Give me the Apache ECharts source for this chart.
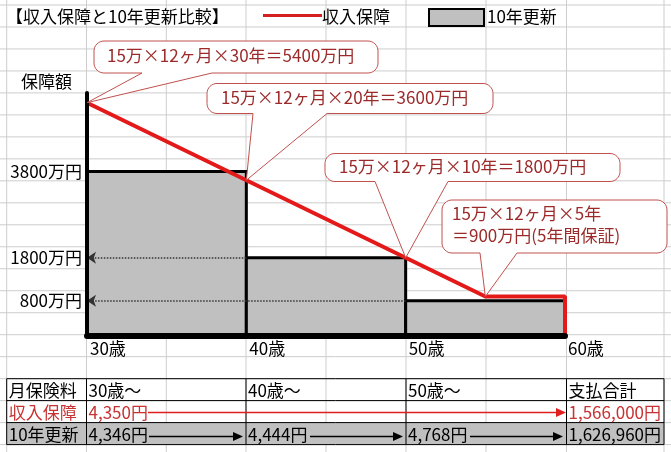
<!DOCTYPE html>
<html>
<head>
<meta charset="utf-8">
<script src="https://cdn.jsdelivr.net/npm/echarts@6/dist/echarts.min.js"></script>
<style>
html, body { margin: 0; padding: 0; background: #fff; }
#main { width: 671px; height: 452px; }
</style>
</head>
<body>
<div id="main"></div>
<script>
// 収入保障（逓減型）の保障額
var incomeAges = [30, 55, 60, 60];
var incomeValues = [5400, 900, 900, 0];
// 10年更新（定期）の保障額
var renewStart = [30, 40, 50];
var renewEnd = [40, 50, 60];
var renewValues = [3800, 1800, 800];
// 軸ラベル
var xTicks = [30, 40, 50, 60];
var yTicks = [800, 1800, 3800];
// 吹き出し
var calloutTexts = [
    ['15万×12ヶ月×30年＝5400万円'],
    ['15万×12ヶ月×20年＝3600万円'],
    ['15万×12ヶ月×10年＝1800万円'],
    ['15万×12ヶ月×5年', '＝900万円(5年間保証)']
];
var calloutAges = [30, 40, 50, 55];
var calloutValues = [5400, 3600, 1800, 900];
// 表
var tableHead = ['月保険料', '30歳～', '40歳～', '50歳～', '支払合計'];
var incomeRow = ['収入保障', '4,350円', '', '', '1,566,000円'];
var renewRow = ['10年更新', '4,346円', '4,444円', '4,768円', '1,626,960円'];

var FONT = 'Noto Sans CJK JP';
var FS = 17;
var myChart = echarts.init(document.getElementById('main'));

var option = {
    animation: false,
    grid: {     //グラフ位置
        left: 87,
        right: 106,
        top: 93,
        bottom: 116.7
    },
    xAxis: {
        type: 'value',
        min: 30,
        max: 60,
        z: 10,
        axisLine: { show: true, onZero: false, lineStyle: { color: '#000', width: 6 } },
        axisTick: { show: false },
        splitLine: { show: false },
        axisLabel: {
            customValues: xTicks,
            formatter: function (v) { return v + '歳'; },
            color: '#000',
            fontSize: FS,
            fontFamily: FONT,
            align: 'left',
            verticalAlign: 'top',
            padding: [0, 0, 0, 3],
            margin: 5
        }
    },
    yAxis: {
        type: 'value',
        min: 0,
        max: 5625,
        z: 10,
        name: '保障額',
        nameLocation: 'end',
        nameGap: 3,
        nameTextStyle: { color: '#000', fontSize: FS, fontFamily: FONT, align: 'right', padding: [0, 15, 0, 0] },
        axisLine: { show: true, lineStyle: { color: '#000', width: 4 } },
        axisTick: { show: false },
        splitLine: { show: false },
        axisLabel: {
            customValues: yTicks,
            formatter: function (v) { return v + '万円'; },
            color: '#000',
            fontSize: FS,
            fontFamily: FONT,
            margin: 5
        }
    },
    series: [
        {
            name: '10年更新',
            type: 'custom',
            z: 2,
            encode: { x: [0, 1], y: 2 },
            data: renewValues.map(function (v, i) { return [renewStart[i], renewEnd[i], v]; }),
            renderItem: function (params, api) {
                var p0 = api.coord([api.value(0), 0]);
                var p1 = api.coord([api.value(1), api.value(2)]);
                return {
                    type: 'rect',
                    shape: { x: p0[0], y: p1[1], width: p1[0] - p0[0], height: p0[1] - p1[1] },
                    style: { fill: '#C0C0C0', stroke: '#000', lineWidth: 3 }
                };
            }
        },
        {
            name: '収入保障',
            type: 'line',
            z: 4,
            showSymbol: false,
            data: incomeAges.map(function (a, i) { return [a, incomeValues[i]]; }),
            lineStyle: { color: '#E41A1A', width: 4 }
        },
        {   // 点線の矢印
            type: 'lines',
            coordinateSystem: 'cartesian2d',
            z: 3,
            symbol: ['none', 'arrow'],
            symbolSize: 9,
            lineStyle: { color: '#333', type: 'dotted', width: 1.5, opacity: 1 },
            data: [1, 2].map(function (i) {
                return { coords: [[renewStart[i], renewValues[i]], [renewStart[0], renewValues[i]]] };
            })
        }
    ]
};
myChart.setOption(option);

// ---- グラフィック（シートの罫線・凡例・吹き出し・表） ----
var g = [];
var colX = [6.7, 86.5, 166.3, 246, 326, 406, 486, 566.5, 664];
for (var c = 0; c < colX.length; c++) {
    g.push({ type: 'line', z: -5, shape: { x1: colX[c], y1: 0, x2: colX[c], y2: 452 }, style: { stroke: '#CDCDCD', lineWidth: 1 } });
}
for (var r = 0; r <= 20; r++) {
    var yy = 5 + 21.98 * r;
    g.push({ type: 'line', z: -5, shape: { x1: 0, y1: yy, x2: 671, y2: yy }, style: { stroke: '#CDCDCD', lineWidth: 1 } });
}

function txt(x, y, s, color) {
    return { type: 'text', x: x, y: y, z: 30, style: { text: s, fill: color || '#000', fontSize: FS, fontFamily: FONT, verticalAlign: 'middle' } };
}

// タイトル・凡例
g.push(txt(6, 17, '【収入保障と10年更新比較】'));
g.push({ type: 'line', z: 30, shape: { x1: 263, y1: 15.5, x2: 322, y2: 15.5 }, style: { stroke: '#D42020', lineWidth: 3 } });
g.push(txt(322, 17, '収入保障'));
g.push({ type: 'rect', z: 30, shape: { x: 429, y: 9, width: 55, height: 17 }, style: { fill: '#C0C0C0', stroke: '#000', lineWidth: 2 } });
g.push(txt(487, 17, '10年更新'));

// 吹き出し
var boxes = [
    { x: 94, y: 41, w: 284, h: 32, b1: 142, b2: 212, tx: 107, ty: 56 },
    { x: 207, y: 83.5, w: 286, h: 30, b1: 253, b2: 327, tx: 221, ty: 98 },
    { x: 325, y: 153.5, w: 295, h: 28, b1: 375, b2: 448, tx: 339, ty: 167 },
    { x: 442, y: 200, w: 225, h: 53, b1: 480, b2: 517, tx: 452, ty: 214 }
];
function bubble(b, tip) {
    var rr = 10, pts = [];
    function arc(cx, cy, a0, a1) {
        for (var k = 0; k <= 8; k++) {
            var a = a0 + (a1 - a0) * k / 8;
            pts.push([cx + rr * Math.cos(a), cy + rr * Math.sin(a)]);
        }
    }
    arc(b.x + rr, b.y + rr, Math.PI, 1.5 * Math.PI);
    arc(b.x + b.w - rr, b.y + rr, 1.5 * Math.PI, 2 * Math.PI);
    arc(b.x + b.w - rr, b.y + b.h - rr, 0, 0.5 * Math.PI);
    pts.push([b.b2, b.y + b.h]);
    pts.push(tip);
    pts.push([b.b1, b.y + b.h]);
    arc(b.x + rr, b.y + b.h - rr, 0.5 * Math.PI, Math.PI);
    return pts;
}
boxes.forEach(function (b, i) {
    var tip = myChart.convertToPixel({ gridIndex: 0 }, [calloutAges[i], calloutValues[i]]);
    g.push({ type: 'polygon', z: 20, shape: { points: bubble(b, tip) }, style: { fill: '#fff', stroke: '#C0504D', lineWidth: 1 } });
    calloutTexts[i].forEach(function (s, j) {
        g.push(txt(b.tx, b.ty + j * 22, s, '#9C2A2A'));
    });
});

// 表
var rowY = [378.7, 400.6, 422.6, 444.6];
var cellX = [6.7, 86.5, 246, 406, 566.5, 664];
g.push({ type: 'rect', z: 1, shape: { x: cellX[0], y: rowY[2], width: cellX[5] - cellX[0], height: rowY[3] - rowY[2] }, style: { fill: '#C0C0C0' } });
rowY.forEach(function (y) {
    g.push({ type: 'line', z: 2, shape: { x1: cellX[0], y1: y, x2: cellX[5], y2: y }, style: { stroke: '#000', lineWidth: 1 } });
});
cellX.forEach(function (x) {
    g.push({ type: 'line', z: 2, shape: { x1: x, y1: rowY[0], x2: x, y2: rowY[3] }, style: { stroke: '#000', lineWidth: 1 } });
});
[tableHead, incomeRow, renewRow].forEach(function (row, ri) {
    var color = ri === 1 ? '#C83232' : '#000';
    row.forEach(function (s, ci) {
        if (s) g.push(txt(cellX[ci] + 2, (rowY[ri] + rowY[ri + 1]) / 2 + 1, s, color));
    });
});
function arrow(x1, x2, y, color) {
    g.push({ type: 'line', z: 3, shape: { x1: x1, y1: y, x2: x2 - 6, y2: y }, style: { stroke: color, lineWidth: 1.5 } });
    g.push({ type: 'polygon', z: 3, shape: { points: [[x2, y], [x2 - 10, y - 4.5], [x2 - 10, y + 4.5]] }, style: { fill: color } });
}
arrow(148, 566, 412.5, '#E02020');
arrow(149, 243, 436.5, '#000');
arrow(310, 403, 436.5, '#000');
arrow(470, 563, 436.5, '#000');

myChart.setOption({ graphic: { elements: g } });
</script>
</body>
</html>
